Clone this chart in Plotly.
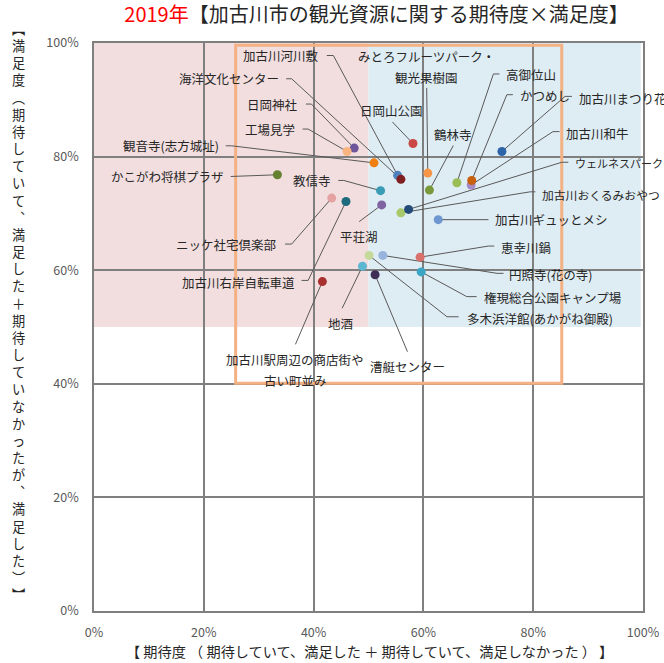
import plotly.graph_objects as go

# ---------------- data ----------------
names = [
    "加古川河川敷", "海洋文化センター", "日岡神社", "工場見学", "観音寺(志方城址)",
    "かこがわ将棋プラザ", "教信寺", "ニッケ社宅倶楽部", "加古川右岸自転車道",
    "加古川駅周辺の商店街や古い町並み", "地酒", "平荘湖", "漕艇センター",
    "多木浜洋館(あかがね御殿)", "権現総合公園キャンプ場", "円照寺(花の寺)", "恵幸川鍋",
    "加古川ギュッとメシ", "加古川おくるみおやつ", "ウェルネスパーク", "加古川和牛",
    "加古川まつり花火", "かつめし", "高御位山", "鶴林寺", "日岡山公園",
    "みとろフルーツパーク・観光果樹園",
]
expectation = [55.3, 55.9, 47.4, 46.1, 51.0, 33.4, 52.2, 43.3, 45.9, 41.6, 48.9, 52.4, 51.2,
               50.1, 59.6, 52.6, 59.4, 62.7, 55.9, 57.3, 68.7, 74.3, 68.8, 66.1, 61.1, 58.1, 60.8]
satisfaction = [76.7, 76.0, 81.5, 80.9, 78.9, 76.8, 74.0, 72.7, 72.1, 58.0, 60.7, 71.5, 59.2,
                62.6, 59.7, 62.6, 62.3, 68.9, 70.1, 70.7, 75.0, 80.9, 75.8, 75.4, 74.1, 82.3, 77.1]
colors = ["#4F81BD", "#7F1F1F", "#6E5499", "#FAB47F", "#F07F12", "#64812F", "#3A9BB5",
          "#E4A3A2", "#1F6B7E", "#A8302E", "#5DB7D3", "#8064A2", "#3F2E55",
          "#C5D99B", "#38A6C4", "#98B4DD", "#D9706C", "#6E97D0", "#A9C86A", "#234B78",
          "#A58BC6", "#2E64A8", "#C8600E", "#98BE55", "#78993A", "#C94845", "#F79646"]

x_ticks = [0, 20, 40, 60, 80, 100]
x_tick_labels = ["0%", "20%", "40%", "60%", "80%", "100%"]
y_ticks = [0, 20, 40, 60, 80, 100]
y_tick_labels = ["0%", "20%", "40%", "60%", "80%", "100%"]

title_year = "2019年"
title_rest = "【加古川市の観光資源に関する期待度×満足度】"
x_title = "【 期待度 （ 期待していて、満足した ＋ 期待していて、満足しなかった ） 】"
y_title_chars = ["︻", "満", "足", "度", "︵", "期", "待", "し", "て", "い", "て", "︑",
                 "満", "足", "し", "た", "＋", "期", "待", "し", "て", "い", "な", "か",
                 "っ", "た", "が", "︑", "満", "足", "し", "た", "︶", "︼"]

# ---------------- label layout (text position, anchor, leader path) ----------------
label_layout = {
    "加古川河川敷": dict(lines=["加古川河川敷"], x=41.3, y=97.8, anchor="right",
                   path=[(42.4, 97.8), (43.6, 97.8)]),
    "海洋文化センター": dict(lines=["海洋文化センター"], x=34.0, y=93.7, anchor="right",
                     path=[(35.0, 93.7), (36.0, 93.7)]),
    "日岡神社": dict(lines=["日岡神社"], x=37.5, y=89.25, anchor="right",
                 path=[(38.6, 89.25), (39.6, 89.25)]),
    "工場見学": dict(lines=["工場見学"], x=37.0, y=84.85, anchor="right",
                 path=[(38.0, 84.85), (39.0, 84.85)]),
    "観音寺(志方城址)": dict(lines=["観音寺(志方城址)"], x=23.05, y=81.9, anchor="right",
                      path=[(24.0, 81.9), (25.05, 81.9)]),
    "かこがわ将棋プラザ": dict(lines=["かこがわ将棋プラザ"], x=24.1, y=76.5, anchor="right",
                       path=[(24.9, 76.5)]),
    "教信寺": dict(lines=["教信寺"], x=43.5, y=75.8, anchor="right",
                path=[(44.5, 75.8), (45.5, 75.8)]),
    "ニッケ社宅倶楽部": dict(lines=["ニッケ社宅倶楽部"], x=33.7, y=64.5, anchor="right",
                     path=[(34.8, 64.6), (36.0, 64.6)]),
    "加古川右岸自転車道": dict(lines=["加古川右岸自転車道"], x=36.9, y=57.9, anchor="right",
                       path=[(37.8, 58.2), (39.0, 58.2)]),
    "加古川駅周辺の商店街や古い町並み": dict(lines=["加古川駅周辺の商店街や", "古い町並み"],
                              x=36.7, y=42.5, anchor="center", path=[(36.7, 46.95)]),
    "地酒": dict(lines=["地酒"], x=44.9, y=50.65, anchor="center", path=[(45.2, 53.3)]),
    "平荘湖": dict(lines=["平荘湖"], x=48.3, y=65.9, anchor="center", path=[(48.3, 68.55)]),
    "漕艇センター": dict(lines=["漕艇センター"], x=57.1, y=43.0, anchor="center",
                   path=[(57.1, 45.65)]),
    "多木浜洋館(あかがね御殿)": dict(lines=["多木浜洋館(あかがね御殿)"], x=67.5, y=51.5,
                          anchor="left", path=[(66.4, 51.8), (64.3, 51.8)]),
    "権現総合公園キャンプ場": dict(lines=["権現総合公園キャンプ場"], x=70.6, y=55.2,
                         anchor="left", path=[(69.7, 55.35), (67.9, 55.35)]),
    "円照寺(花の寺)": dict(lines=["円照寺(花の寺)"], x=75.2, y=59.2, anchor="left",
                     path=[(74.6, 59.45), (73.4, 59.45)]),
    "恵幸川鍋": dict(lines=["恵幸川鍋"], x=73.7, y=64.0, anchor="left",
                 path=[(72.9, 64.25), (71.85, 64.25)]),
    "加古川ギュッとメシ": dict(lines=["加古川ギュッとメシ"], x=72.65, y=68.9, anchor="left",
                       path=[(71.85, 68.9)]),
    "加古川おくるみおやつ": dict(lines=["加古川おくるみおやつ"], x=81.3, y=73.4, anchor="left",
                        path=[(80.4, 73.8), (79.45, 73.8)], size=11.8),
    "ウェルネスパーク": dict(lines=["ウェルネスパーク"], x=87.2, y=78.85, anchor="left",
                     path=[(86.4, 79.0), (85.2, 79.0)], size=11.0),
    "加古川和牛": dict(lines=["加古川和牛"], x=85.65, y=84.15, anchor="left",
                  path=[(84.8, 84.4), (83.6, 84.4)]),
    "加古川まつり花火": dict(lines=["加古川まつり花火"], x=87.95, y=90.3, anchor="left",
                     path=[(87.05, 90.6), (85.8, 90.6)]),
    "かつめし": dict(lines=["かつめし"], x=77.3, y=90.7, anchor="left",
                 path=[(76.3, 90.9), (75.2, 90.9)]),
    "高御位山": dict(lines=["高御位山"], x=74.6, y=94.4, anchor="left",
                 path=[(73.85, 94.55), (72.75, 94.55)]),
    "鶴林寺": dict(lines=["鶴林寺"], x=65.45, y=83.85, anchor="center", path=[(65.45, 81.95)]),
    "日岡山公園": dict(lines=["日岡山公園"], x=54.2, y=88.1, anchor="center",
                  path=[(54.35, 86.1)]),
    "みとろフルーツパーク・観光果樹園": dict(lines=["みとろフルーツパーク・", "観光果樹園"],
                              x=60.6, y=95.8, anchor="center", path=[(60.6, 92.1)]),
}
LINE_STEP = 3.7  # vertical distance between text lines of one label (axis units)
LABEL_SIZE = 12.5

FONT = "Noto Sans CJK JP"
GRID = "#7F7F7F"

fig = go.Figure()

# leader lines
lx, ly = [], []
for n, xv, yv in zip(names, expectation, satisfaction):
    pts = label_layout[n]["path"] + [(xv, yv)]
    lx += [p[0] for p in pts] + [None]
    ly += [p[1] for p in pts] + [None]
fig.add_trace(go.Scatter(x=lx, y=ly, mode="lines", line=dict(color="#595959", width=1),
                         hoverinfo="skip", showlegend=False, cliponaxis=False))

# points
fig.add_trace(go.Scatter(x=expectation, y=satisfaction, mode="markers", text=names,
                         marker=dict(size=9, color=colors, line=dict(width=0)),
                         showlegend=False, cliponaxis=False))

annotations = []
for n in names:
    L = label_layout[n]
    k = len(L["lines"])
    for i, t in enumerate(L["lines"]):
        yy = L["y"] + (k - 1) / 2 * LINE_STEP - i * LINE_STEP
        annotations.append(dict(x=L["x"], y=yy, xref="x", yref="y", text=t, showarrow=False,
                                xanchor=L["anchor"], yanchor="middle",
                                font=dict(family=FONT, size=L.get("size", LABEL_SIZE),
                                          color="#262626")))

# y-axis title (vertical writing)
annotations.append(dict(x=-0.138, y=0.528, xref="paper", yref="paper",
                        text="<br>".join(y_title_chars), showarrow=False,
                        xanchor="center", yanchor="middle", align="center",
                        font=dict(family=FONT, size=13.2, color="#262626")))
# x-axis title
annotations.append(dict(x=0.501, y=-0.0705, xref="paper", yref="paper", text=x_title,
                        showarrow=False, xanchor="center", yanchor="middle",
                        font=dict(family=FONT, size=14.2, color="#262626")))

shapes = [
    dict(type="rect", xref="x", yref="y", x0=-0.4, x1=50, y0=50, y1=100.5,
         fillcolor="#F2DEDE", line=dict(width=0), layer="below"),
    dict(type="rect", xref="x", yref="y", x0=50, x1=99.6, y0=50, y1=100.5,
         fillcolor="#DEECF3", line=dict(width=0), layer="below"),
    dict(type="rect", xref="x", yref="y", x0=25.8, x1=85.2, y0=40.1, y1=99.6,
         fillcolor="rgba(0,0,0,0)", line=dict(color="#F4B183", width=3), layer="between"),
]

fig.update_layout(
    width=664, height=663,
    margin=dict(l=94, r=21, t=43, b=52, autoexpand=False),
    paper_bgcolor="white", plot_bgcolor="rgba(0,0,0,0)",
    title=dict(text=f"<span style='color:#FF0000'>{title_year}</span>{title_rest}",
               x=0.567, y=0.977, xanchor="center", yanchor="middle",
               font=dict(family=FONT, size=20, color="#262626")),
    annotations=annotations,
    shapes=shapes,
    showlegend=False,
)
axis_common = dict(range=[0, 100], showgrid=True, gridcolor=GRID, gridwidth=1.6,
                   zeroline=False, showline=True, linecolor=GRID, linewidth=1.6, mirror=True,
                   ticks="", tickmode="array", automargin=False,
                   tickfont=dict(family=FONT, size=12.5, color="#595959"))
fig.update_xaxes(**axis_common)
fig.update_xaxes(tickvals=x_ticks, ticktext=x_tick_labels, ticklabelstandoff=9)
fig.update_yaxes(**axis_common)
fig.update_yaxes(tickvals=y_ticks, ticktext=y_tick_labels, ticklabelstandoff=11)

fig.write_html("out.html", config={"displayModeBar": False},
               post_script="document.body.style.margin='0px';document.body.style.padding='0px';")
